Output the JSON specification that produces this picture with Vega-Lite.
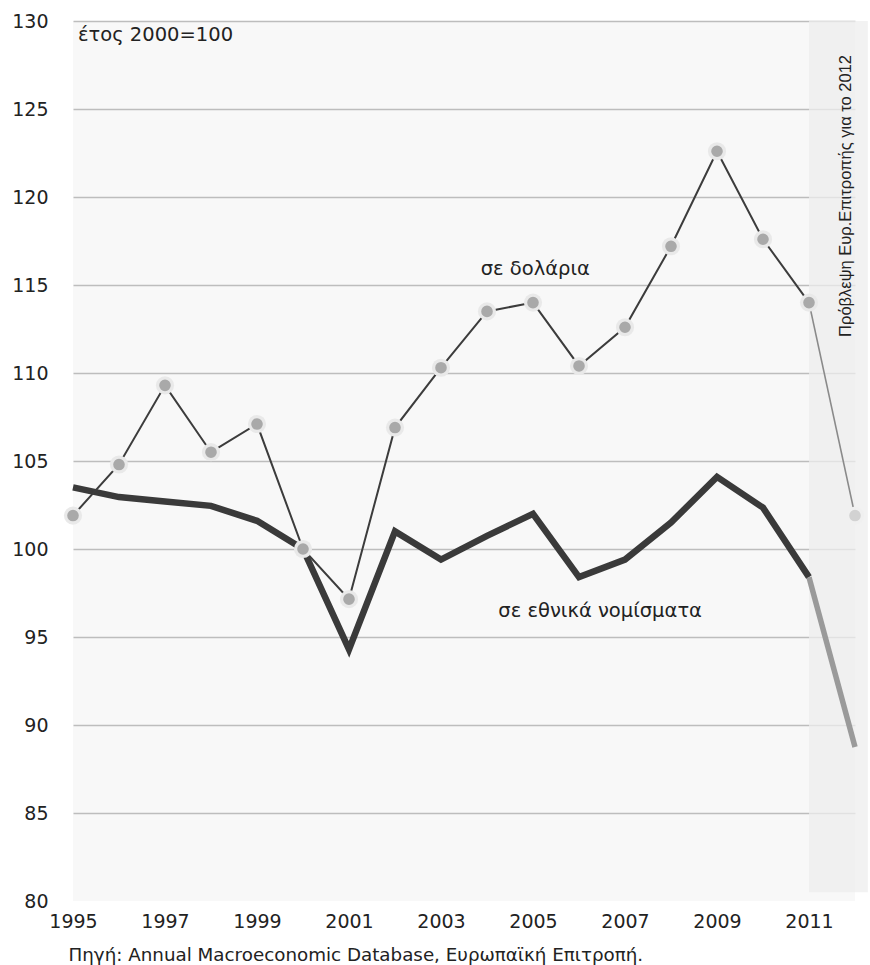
{
  "$schema": "https://vega.github.io/schema/vega-lite/v6.json",
  "width": 782,
  "height": 880,
  "autosize": "none",
  "padding": {"left": 73, "top": 21, "right": 15, "bottom": 64},
  "background": "white",
  "config": {
    "view": {"stroke": null, "fill": "#f8f8f8"},
    "font": "DejaVu Sans",
    "text": {"font": "DejaVu Sans", "color": "#222222"}
  },
  "datasets": {
    "series": [
      {"year": 1995, "series": "usd", "part": "actual", "value": 101.9},
      {"year": 1996, "series": "usd", "part": "actual", "value": 104.8},
      {"year": 1997, "series": "usd", "part": "actual", "value": 109.3},
      {"year": 1998, "series": "usd", "part": "actual", "value": 105.5},
      {"year": 1999, "series": "usd", "part": "actual", "value": 107.1},
      {"year": 2000, "series": "usd", "part": "actual", "value": 100.0},
      {"year": 2001, "series": "usd", "part": "actual", "value": 97.15},
      {"year": 2002, "series": "usd", "part": "actual", "value": 106.9},
      {"year": 2003, "series": "usd", "part": "actual", "value": 110.3},
      {"year": 2004, "series": "usd", "part": "actual", "value": 113.5},
      {"year": 2005, "series": "usd", "part": "actual", "value": 114.0},
      {"year": 2006, "series": "usd", "part": "actual", "value": 110.4},
      {"year": 2007, "series": "usd", "part": "actual", "value": 112.6},
      {"year": 2008, "series": "usd", "part": "actual", "value": 117.2},
      {"year": 2009, "series": "usd", "part": "actual", "value": 122.6},
      {"year": 2010, "series": "usd", "part": "actual", "value": 117.6},
      {"year": 2011, "series": "usd", "part": "actual", "value": 114.0},
      {"year": 2011, "series": "usd", "part": "forecast", "value": 114.0},
      {"year": 2012, "series": "usd", "part": "forecast", "value": 101.9},
      {"year": 1995, "series": "nat", "part": "actual", "value": 103.5},
      {"year": 1996, "series": "nat", "part": "actual", "value": 102.95},
      {"year": 1997, "series": "nat", "part": "actual", "value": 102.7},
      {"year": 1998, "series": "nat", "part": "actual", "value": 102.45},
      {"year": 1999, "series": "nat", "part": "actual", "value": 101.6},
      {"year": 2000, "series": "nat", "part": "actual", "value": 100.0},
      {"year": 2001, "series": "nat", "part": "actual", "value": 94.3},
      {"year": 2002, "series": "nat", "part": "actual", "value": 101.0},
      {"year": 2003, "series": "nat", "part": "actual", "value": 99.4},
      {"year": 2004, "series": "nat", "part": "actual", "value": 100.75},
      {"year": 2005, "series": "nat", "part": "actual", "value": 102.0},
      {"year": 2006, "series": "nat", "part": "actual", "value": 98.4},
      {"year": 2007, "series": "nat", "part": "actual", "value": 99.4},
      {"year": 2008, "series": "nat", "part": "actual", "value": 101.5},
      {"year": 2009, "series": "nat", "part": "actual", "value": 104.1},
      {"year": 2010, "series": "nat", "part": "actual", "value": 102.35},
      {"year": 2011, "series": "nat", "part": "actual", "value": 98.4},
      {"year": 2011, "series": "nat", "part": "forecast", "value": 98.4},
      {"year": 2012, "series": "nat", "part": "forecast", "value": 88.75}
    ]
  },
  "layer": [
    {
      "data": {"values": [{"year": 2011, "year2": 2012.28, "value": 80.5, "value2": 130}]},
      "mark": {"type": "rect", "fill": "#eeeeee", "opacity": 0.75},
      "encoding": {
        "x": {
          "field": "year", "type": "quantitative",
          "scale": {"domain": [1995, 2012], "nice": false, "zero": false},
          "axis": {
            "values": [1995, 1997, 1999, 2001, 2003, 2005, 2007, 2009, 2011],
            "format": "d", "grid": false, "ticks": false, "domain": false,
            "labelFlush": false, "labelOverlap": false,
            "labelFontSize": 19, "labelPadding": 11, "labelColor": "#222222",
            "labelFont": "DejaVu Sans",
            "title": "Πηγή: Annual Macroeconomic Database, Ευρωπαϊκή Επιτροπή.",
            "titleFontSize": 18.3, "titleFontWeight": "normal", "titleColor": "#222222",
            "titleFont": "DejaVu Sans",
            "titleAnchor": "start", "titleAlign": "left", "titleX": -5, "titleY": 54,
            "titleBaseline": "middle"
          }
        },
        "x2": {"field": "year2"},
        "y": {
          "field": "value", "type": "quantitative",
          "scale": {"domain": [80, 130], "nice": false, "zero": false},
          "axis": {
            "values": [80, 85, 90, 95, 100, 105, 110, 115, 120, 125, 130],
            "grid": true,
            "gridColor": {"condition": {"test": "datum.value === 80", "value": "transparent"}, "value": "#bdbdbd"},
            "gridWidth": 1.3, "ticks": false, "domain": false,
            "labelFlush": false, "labelOverlap": false,
            "labelFontSize": 19, "labelPadding": 25, "labelColor": "#222222",
            "labelFont": "DejaVu Sans", "title": null
          }
        },
        "y2": {"field": "value2"}
      }
    },
    {
      "data": {"name": "series"},
      "transform": [{"filter": "datum.series === 'nat' && datum.part === 'actual'"}],
      "mark": {"type": "line", "stroke": "#3a3a3a", "strokeWidth": 6.5, "strokeJoin": "miter"},
      "encoding": {
        "x": {"field": "year", "type": "quantitative"},
        "y": {"field": "value", "type": "quantitative"}
      }
    },
    {
      "data": {"name": "series"},
      "transform": [{"filter": "datum.series === 'nat' && datum.part === 'forecast'"}],
      "mark": {"type": "line", "stroke": "#9a9a9a", "strokeWidth": 5.5},
      "encoding": {
        "x": {"field": "year", "type": "quantitative"},
        "y": {"field": "value", "type": "quantitative"}
      }
    },
    {
      "data": {"name": "series"},
      "transform": [{"filter": "datum.series === 'usd' && datum.part === 'actual'"}],
      "mark": {"type": "line", "stroke": "#3c3c3c", "strokeWidth": 2},
      "encoding": {
        "x": {"field": "year", "type": "quantitative"},
        "y": {"field": "value", "type": "quantitative"}
      }
    },
    {
      "data": {"name": "series"},
      "transform": [{"filter": "datum.series === 'usd' && datum.part === 'forecast'"}],
      "mark": {"type": "line", "stroke": "#8a8a8a", "strokeWidth": 1.6},
      "encoding": {
        "x": {"field": "year", "type": "quantitative"},
        "y": {"field": "value", "type": "quantitative"}
      }
    },
    {
      "data": {"name": "series"},
      "transform": [{"filter": "datum.series === 'usd' && (datum.part === 'actual' || datum.year === 2012)"}],
      "mark": {"type": "circle", "size": 330, "opacity": 1},
      "encoding": {
        "x": {"field": "year", "type": "quantitative"},
        "y": {"field": "value", "type": "quantitative"},
        "color": {"condition": {"test": "datum.year === 2012", "value": "#f0f0f0"}, "value": "#e9e9e9"}
      }
    },
    {
      "data": {"name": "series"},
      "transform": [{"filter": "datum.series === 'usd' && (datum.part === 'actual' || datum.year === 2012)"}],
      "mark": {"type": "circle", "size": 135, "opacity": 1},
      "encoding": {
        "x": {"field": "year", "type": "quantitative"},
        "y": {"field": "value", "type": "quantitative"},
        "color": {"condition": {"test": "datum.year === 2012", "value": "#d2d2d2"}, "value": "#a9a9a9"}
      }
    },
    {
      "data": {"values": [{"year": 1995, "value": 129.2, "label": "έτος 2000=100"}]},
      "mark": {"type": "text", "align": "left", "baseline": "middle", "dx": 5, "fontSize": 19.5},
      "encoding": {
        "x": {"field": "year", "type": "quantitative"},
        "y": {"field": "value", "type": "quantitative"},
        "text": {"field": "label"}
      }
    },
    {
      "data": {"values": [
        {"year": 2005.05, "value": 115.9, "label": "σε δολάρια"},
        {"year": 2006.46, "value": 96.5, "label": "σε εθνικά νομίσματα"}
      ]},
      "mark": {"type": "text", "align": "center", "baseline": "middle", "fontSize": 19.5},
      "encoding": {
        "x": {"field": "year", "type": "quantitative"},
        "y": {"field": "value", "type": "quantitative"},
        "text": {"field": "label"}
      }
    },
    {
      "data": {"values": [{"year": 2011.8, "value": 120.06, "label": "Πρόβλεψη Ευρ.Επιτροπής για το 2012"}]},
      "mark": {"type": "text", "align": "center", "baseline": "middle", "angle": 270, "fontSize": 16.5, "font": "Liberation Sans"},
      "encoding": {
        "x": {"field": "year", "type": "quantitative"},
        "y": {"field": "value", "type": "quantitative"},
        "text": {"field": "label"}
      }
    }
  ]
}
